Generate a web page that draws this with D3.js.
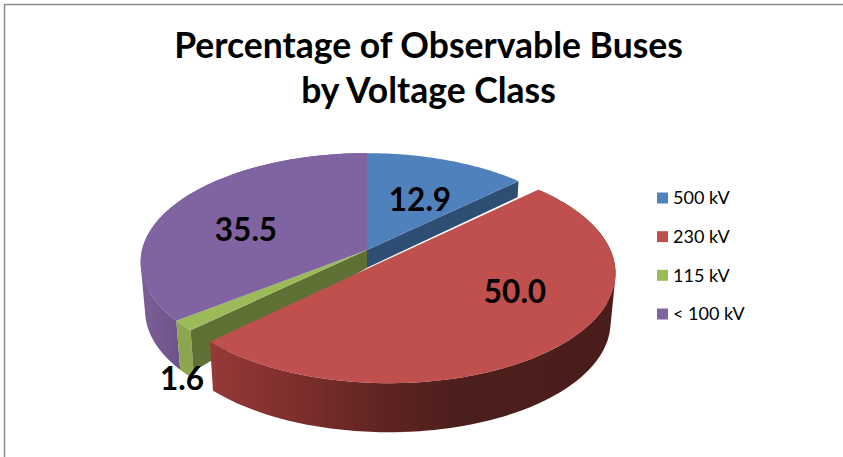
<!DOCTYPE html>
<html><head><meta charset="utf-8">
<script src="https://cdn.jsdelivr.net/npm/d3@7"></script>
<style>html,body{margin:0;padding:0;background:#fff}svg{display:block}text{font-family:Lato,"Open Sans",sans-serif;fill:#000}</style>
</head><body><svg id="c" width="843" height="457"></svg>
<script>
const categories = ["500 kV","230 kV","115 kV","< 100 kV"];
const values = [12.9,50.0,1.6,35.5];
const labels = ["12.9","50.0","1.6","35.5"];
const topColors = ["#4f81bd","#c0504d","#9bbb59","#8064a2"];
const titleLines = ["Percentage of Observable Buses","by Voltage Class"];

const svg = d3.select("#c");
const pieAngles = d3.pie().sort(null).value(d=>d)(values);

// perspective projection of the disc
const cx=367, cy=250, A=107.5, B=225, k=0.11, depth=49, explodeRed=0.125;
function project(u,v,z=0){
  const w=1+k*v;
  return [cx+B*u/w*(1-0.02*z), cy-A*v/w+z*depth];
}
function offsetFor(i,d){
  if(i!==1) return [0,0];
  const m=(d.startAngle+d.endAngle)/2;
  return [Math.sin(m)*explodeRed, Math.cos(m)*explodeRed];
}
function rimPoint(i,d,a,r=1){
  const o=offsetFor(i,d);
  return [o[0]+Math.sin(a)*r, o[1]+Math.cos(a)*r];
}
const line=d3.line();
function arcPts(i,d,z,a0=d.startAngle,a1=d.endAngle){
  const n=Math.max(4,Math.ceil((a1-a0)/0.02));
  return d3.range(n+1).map(j=>{
    const p=rimPoint(i,d,a0+(a1-a0)*j/n);
    return project(p[0],p[1],z);
  });
}
const defs=svg.append("defs");
const grad=defs.append("linearGradient").attr("id","redWall").attr("gradientUnits","userSpaceOnUse")
  .attr("x1",208).attr("x2",620).attr("y1",0).attr("y2",0);
[[0,"#953a38"],[0.2,"#7f2f2d"],[0.45,"#5c2321"],[0.62,"#4c1e1c"],[1,"#4a1d1b"]].forEach(s=>grad.append("stop").attr("offset",s[0]).attr("stop-color",s[1]));
const gradP=defs.append("linearGradient").attr("id","purpleWall").attr("gradientUnits","userSpaceOnUse")
  .attr("x1",140).attr("x2",182).attr("y1",0).attr("y2",0);
[[0,"#7a6097"],[1,"#6b5288"]].forEach(s=>gradP.append("stop").attr("offset",s[0]).attr("stop-color",s[1]));

// frame
svg.append("path").attr("d","M4.5 457V4.5H843").attr("fill","none").attr("stroke","#8c8c8c").attr("stroke-width",1.5);

// title
svg.selectAll("text.title").data(titleLines).join("text").attr("class","title")
  .attr("x",428.5).attr("y",(d,i)=>57.5+i*45).attr("text-anchor","middle")
  .attr("font-size",35.5).attr("font-weight",700).text(d=>d);

const g=svg.append("g");
function wall(pts,fill){
  g.append("path").attr("d",line(pts)+"Z").attr("fill",fill);
}

const [pBlue,pRed,pGreen,pPurple]=pieAngles;
// outer rim walls: one path of same-wound overlapping quads, so no seams and a convex silhouette
function rimWall(i,d,fill){
  const top=arcPts(i,d,0), bot=arcPts(i,d,1);
  let path="";
  for(let j=0;j<top.length-1;j++){
    const e=Math.min(j+2,top.length-1);
    let q=[top[j],top[e],bot[e],bot[j]];
    if(d3.polygonArea(q)<0) q=q.reverse();
    path+=line(q)+"Z";
  }
  g.append("path").attr("d",path).attr("fill",fill);
}
rimWall(3,pPurple,"url(#purpleWall)");
rimWall(2,pGreen,"#8ba64f");
// inner cut walls (the visible depth shrinks towards the centre)
function cutWall(a,zIn,zOut,fill){
  const u=Math.sin(a), v=Math.cos(a);
  wall([project(0,0),project(u,v),project(u,v,zOut),project(0,0,zIn)],fill);
}
cutWall(pBlue.endAngle,0.36,0.33,"#2f4e74");
cutWall(pGreen.startAngle,0.36,0.84,"#5f7035");
rimWall(1,pRed,"url(#redWall)");
// top faces
pieAngles.forEach((d,i)=>{
  const o=offsetFor(i,d);
  const c=project(o[0],o[1]);
  wall([c].concat(arcPts(i,d,0)),topColors[i]);
});

// data labels
const labelPos=[[420,200],[515,292],[182,379],[246,230]];
svg.selectAll("text.lab").data(labels).join("text").attr("class","lab")
  .attr("x",(d,i)=>labelPos[i][0]).attr("y",(d,i)=>labelPos[i][1])
  .attr("dy","0.36em").attr("text-anchor","middle")
  .attr("font-size",31.5).attr("font-weight",700).text(d=>d);

// legend
const legendY=d3.scalePoint().domain(categories).range([198,314]);
const lg=svg.selectAll("g.leg").data(categories).join("g").attr("class","leg")
  .attr("transform",d=>`translate(656,${legendY(d)})`);
lg.append("rect").attr("x",1).attr("y",-5.5).attr("width",11).attr("height",11).attr("fill",(d,i)=>topColors[i]);
lg.append("text").attr("x",17).attr("dy","0.36em").attr("font-size",18).text(d=>d);
</script></body></html>
